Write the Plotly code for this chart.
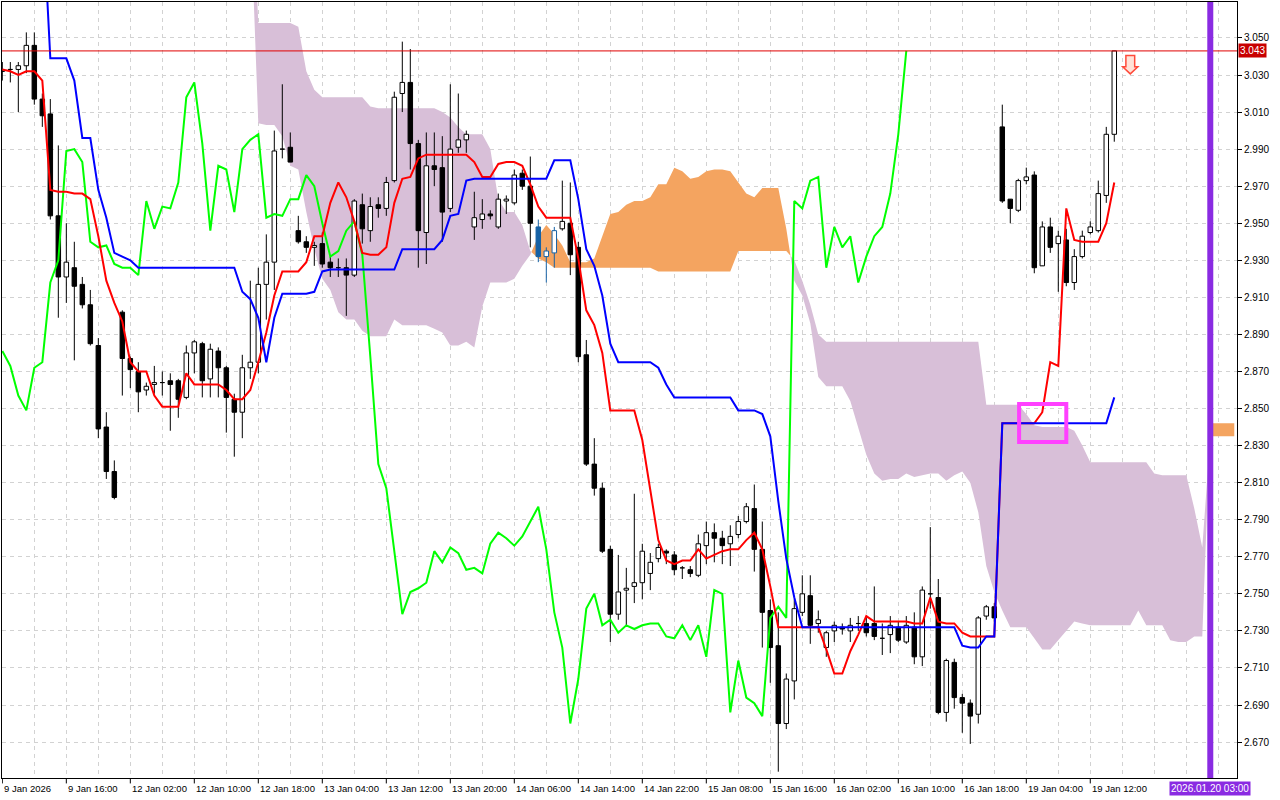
import plotly.graph_objects as go

# ---------------- data (hourly bars, bar index 0..139) ----------------
open_ = [3.032,3.033,3.033,3.035,3.046,3.017,3.009,2.954,2.921,2.926,
         2.917,2.906,2.884,2.840,2.816,2.902,2.877,2.870,2.860,2.863,
         2.864,2.865,2.865,2.856,2.880,2.885,2.866,2.881,2.872,2.855,
         2.848,2.872,2.875,2.917,2.929,2.990,2.991,2.946,2.940,2.937,
         2.939,2.929,2.926,2.926,2.922,2.960,2.946,2.960,2.958,2.973,
         3.020,3.026,2.993,2.945,2.981,2.980,2.958,2.991,2.995,2.948,
         2.952,2.955,2.948,2.962,2.961,2.977,2.970,2.948,2.932,2.934,
         2.947,2.950,2.937,2.879,2.820,2.807,2.774,2.739,2.752,2.754,
         2.756,2.761,2.769,2.773,2.771,2.764,2.763,2.760,2.776,2.783,
         2.780,2.777,2.782,2.789,2.796,2.774,2.741,2.722,2.680,2.703,
         2.740,2.749,2.734,2.721,2.730,2.732,2.730,2.734,2.734,2.734,
         2.726,2.728,2.732,2.724,2.732,2.716,2.750,2.748,2.686,2.713,
         2.694,2.691,2.685,2.738,2.743,3.002,2.963,2.957,2.973,2.976,
         2.927,2.948,2.939,2.941,2.918,2.932,2.945,2.946,2.965,2.998]
high = [3.037,3.037,3.037,3.053,3.053,3.020,3.017,2.992,2.950,2.940,
        2.921,2.914,2.888,2.848,2.822,2.903,2.878,2.875,2.864,2.873,
        2.870,2.869,2.866,2.884,2.887,2.886,2.885,2.883,2.873,2.858,
        2.879,2.919,2.926,2.944,3.000,3.025,2.999,2.954,2.943,2.940,
        2.945,2.932,2.931,2.931,2.963,2.966,2.964,2.964,2.975,3.021,
        3.048,3.044,2.995,2.999,2.999,2.997,3.025,3.020,3.000,2.967,
        2.963,2.957,2.966,2.965,2.979,2.979,2.986,2.952,2.937,2.948,
        2.973,2.972,2.940,2.887,2.834,2.810,2.776,2.771,2.764,2.804,
        2.777,2.772,2.777,2.774,2.773,2.765,2.765,2.782,2.789,2.788,
        2.784,2.787,2.792,2.799,2.809,2.789,2.747,2.740,2.707,2.747,
        2.760,2.760,2.741,2.730,2.735,2.734,2.737,2.738,2.738,2.754,
        2.734,2.738,2.735,2.738,2.740,2.754,2.786,2.758,2.715,2.715,
        2.696,2.693,2.738,2.744,2.745,3.014,2.963,2.974,2.980,2.978,
        2.951,2.953,2.946,2.947,2.936,2.946,2.951,2.973,3.002,3.043]
low = [3.027,3.026,3.010,3.031,3.014,3.002,2.952,2.899,2.907,2.876,
       2.904,2.884,2.834,2.812,2.801,2.857,2.861,2.848,2.857,2.858,
       2.857,2.838,2.845,2.855,2.869,2.856,2.856,2.856,2.837,2.824,
       2.834,2.866,2.869,2.898,2.914,2.985,2.983,2.939,2.934,2.927,
       2.926,2.921,2.921,2.900,2.921,2.939,2.940,2.953,2.954,2.972,
       3.010,2.979,2.926,2.928,2.970,2.940,2.956,2.988,2.988,2.941,
       2.947,2.952,2.947,2.955,2.960,2.968,2.937,2.929,2.918,2.926,
       2.946,2.922,2.875,2.819,2.803,2.772,2.724,2.736,2.733,2.745,
       2.747,2.752,2.767,2.766,2.760,2.758,2.759,2.759,2.766,2.767,
       2.766,2.765,2.780,2.788,2.762,2.721,2.702,2.654,2.677,2.693,
       2.738,2.723,2.729,2.716,2.724,2.728,2.724,2.730,2.727,2.725,
       2.717,2.718,2.724,2.723,2.712,2.711,2.742,2.685,2.681,2.688,
       2.675,2.669,2.680,2.736,2.735,2.961,2.950,2.956,2.971,2.923,
       2.927,2.934,2.913,2.916,2.914,2.931,2.944,2.945,2.961,2.994]
close = [3.032,3.033,3.035,3.046,3.017,3.008,2.954,2.921,2.929,2.916,
         2.906,2.885,2.839,2.816,2.802,2.877,2.871,2.859,2.862,2.864,
         2.864,2.863,2.855,2.880,2.886,2.865,2.882,2.872,2.856,2.848,
         2.872,2.875,2.917,2.929,2.989,2.990,2.983,2.940,2.937,2.938,
         2.928,2.926,2.926,2.922,2.962,2.947,2.959,2.958,2.972,3.018,
         3.026,2.993,2.946,2.981,2.979,2.956,2.990,2.995,2.998,2.953,
         2.955,2.954,2.963,2.963,2.976,2.970,2.950,2.932,2.935,2.946,
         2.951,2.933,2.878,2.820,2.807,2.773,2.739,2.751,2.753,2.756,
         2.773,2.767,2.775,2.772,2.763,2.764,2.761,2.777,2.783,2.780,
         2.776,2.781,2.789,2.797,2.774,2.740,2.721,2.680,2.704,2.742,
         2.750,2.733,2.736,2.729,2.733,2.731,2.733,2.734,2.729,2.727,
         2.726,2.733,2.725,2.733,2.716,2.752,2.750,2.686,2.714,2.694,
         2.691,2.684,2.737,2.743,2.737,2.962,2.958,2.973,2.975,2.926,
         2.948,2.937,2.943,2.918,2.932,2.943,2.948,2.966,2.998,3.043]

tenkan = [3.033,3.032,3.030,3.032,3.032,3.027,2.968,2.967,2.967,2.966,
          2.966,2.963,2.943,2.919,2.907,2.897,2.875,2.870,2.870,2.857,
          2.851,2.851,2.851,2.869,2.863,2.863,2.863,2.863,2.860,2.855,
          2.855,2.860,2.875,2.891,2.911,2.924,2.924,2.924,2.929,2.943,
          2.943,2.961,2.972,2.964,2.951,2.934,2.933,2.933,2.937,2.961,
          2.974,2.975,2.985,2.987,2.987,2.987,2.987,2.987,2.987,2.983,
          2.975,2.975,2.982,2.983,2.983,2.981,2.971,2.959,2.953,2.953,
          2.953,2.953,2.931,2.903,2.895,2.880,2.849,2.849,2.849,2.849,
          2.833,2.806,2.779,2.768,2.766,2.768,2.768,2.774,2.769,2.771,
          2.773,2.774,2.774,2.779,2.783,2.774,2.754,2.732,2.732,2.732,
          2.732,2.732,2.732,2.720,2.707,2.707,2.719,2.728,2.738,2.735,
          2.735,2.735,2.735,2.735,2.734,2.734,2.748,2.735,2.734,2.734,
          2.729,2.727,2.727,2.727,2.727,2.842,2.842,2.842,2.842,2.842,
          2.848,2.875,2.873,2.958,2.941,2.940,2.940,2.940,2.950,2.972]
kijun = [3.130,3.130,3.130,3.130,3.130,3.123,3.039,3.039,3.039,3.027,
         2.996,2.996,2.968,2.953,2.934,2.932,2.930,2.926,2.926,2.926,
         2.926,2.926,2.926,2.926,2.926,2.926,2.926,2.926,2.926,2.926,
         2.913,2.909,2.899,2.875,2.899,2.912,2.912,2.912,2.912,2.913,
         2.924,2.925,2.925,2.925,2.925,2.925,2.925,2.925,2.925,2.925,
         2.936,2.936,2.936,2.936,2.936,2.941,2.954,2.955,2.973,2.974,
         2.974,2.974,2.974,2.974,2.974,2.974,2.974,2.974,2.974,2.984,
         2.984,2.984,2.963,2.936,2.927,2.911,2.885,2.875,2.875,2.875,
         2.875,2.875,2.872,2.863,2.856,2.856,2.856,2.856,2.856,2.856,
         2.856,2.856,2.849,2.849,2.849,2.847,2.835,2.800,2.769,2.748,
         2.732,2.732,2.732,2.732,2.732,2.732,2.732,2.732,2.732,2.732,
         2.732,2.732,2.732,2.732,2.732,2.732,2.732,2.732,2.732,2.732,
         2.722,2.721,2.721,2.727,2.727,2.842,2.842,2.842,2.842,2.842,
         2.842,2.842,2.842,2.842,2.842,2.842,2.842,2.842,2.842,2.856]
chikou = [2.881,2.873,2.857,2.849,2.872,2.875,2.918,2.930,2.989,2.990,
          2.983,2.940,2.937,2.938,2.928,2.926,2.926,2.922,2.962,2.947,
          2.959,2.958,2.972,3.018,3.026,2.993,2.946,2.981,2.979,2.956,
          2.990,2.995,2.998,2.953,2.955,2.954,2.963,2.963,2.976,2.970,
          2.950,2.932,2.935,2.946,2.951,2.933,2.878,2.820,2.807,2.773,
          2.739,2.751,2.753,2.756,2.773,2.767,2.775,2.772,2.763,2.764,
          2.761,2.777,2.783,2.780,2.776,2.781,2.789,2.797,2.774,2.740,
          2.721,2.680,2.704,2.742,2.750,2.733,2.736,2.729,2.733,2.731,
          2.733,2.734,2.734,2.727,2.726,2.733,2.725,2.733,2.716,2.752,
          2.750,2.686,2.714,2.694,2.691,2.684,2.737,2.743,2.737,2.962,
          2.958,2.973,2.975,2.926,2.948,2.937,2.943,2.918,2.932,2.943,
          2.948,2.966,2.998,3.043]

# Senkou spans (cloud), first value at bar 31
senkou_start = 31
senkou_a = [3.120,3.004,3.003,3.003,2.997,2.981,2.979,2.956,2.936,2.920,
            2.914,2.902,2.898,2.898,2.892,2.889,2.889,2.889,2.898,2.895,
            2.895,2.895,2.895,2.893,2.891,2.884,2.884,2.886,2.883,2.905,
            2.918,2.918,2.918,2.920,2.927,2.933,2.943,2.949,2.944,2.938,
            2.929,2.929,2.929,2.931,2.943,2.955,2.956,2.960,2.962,2.962,
            2.964,2.971,2.971,2.980,2.978,2.974,2.975,2.978,2.979,2.979,
            2.978,2.972,2.966,2.964,2.969,2.969,2.969,2.947,2.919,2.911,
            2.896,2.867,2.862,2.862,2.862,2.854,2.840,2.825,2.815,2.811,
            2.812,2.812,2.815,2.813,2.814,2.815,2.815,2.811,2.814,2.816,
            2.810,2.794,2.765,2.751,2.741,2.732,2.732,2.732,2.726,2.720,
            2.720,2.725,2.730,2.735,2.734,2.733,2.733,2.733,2.733,2.733,
            2.733,2.741,2.733,2.733,2.733,2.725,2.724,2.724,2.727,2.727,
            2.842,2.842,2.842,2.842]
senkou_b = [3.150,3.058,3.058,3.058,3.058,3.058,3.056,3.032,3.022,3.018,
            3.018,3.018,3.018,3.018,3.018,3.013,3.012,3.012,3.012,3.012,
            3.012,3.012,3.012,3.012,3.010,3.007,3.002,2.998,2.998,2.998,
            2.990,2.963,2.956,2.956,2.949,2.935,2.931,2.929,2.926,2.926,
            2.926,2.926,2.926,2.926,2.926,2.926,2.926,2.926,2.926,2.926,
            2.926,2.924,2.924,2.924,2.924,2.924,2.924,2.924,2.924,2.924,
            2.924,2.935,2.935,2.935,2.935,2.935,2.935,2.935,2.930,2.919,
            2.906,2.890,2.886,2.886,2.886,2.886,2.886,2.886,2.886,2.886,
            2.886,2.886,2.886,2.886,2.886,2.886,2.886,2.886,2.886,2.886,
            2.886,2.886,2.852,2.852,2.852,2.852,2.852,2.847,2.841,2.840,
            2.840,2.840,2.840,2.838,2.830,2.821,2.821,2.821,2.821,2.821,
            2.821,2.821,2.821,2.815,2.814,2.814,2.814,2.814,2.796,2.775,
            2.835,2.835,2.835,2.835]

time_labels = ["9 Jan 2026", "9 Jan 16:00", "12 Jan 02:00", "12 Jan 10:00",
               "12 Jan 18:00", "13 Jan 04:00", "13 Jan 12:00", "13 Jan 20:00",
               "14 Jan 06:00", "14 Jan 14:00", "14 Jan 22:00", "15 Jan 08:00",
               "15 Jan 16:00", "16 Jan 02:00", "16 Jan 10:00", "16 Jan 18:00",
               "19 Jan 04:00", "19 Jan 12:00"]
time_label_bars = [0, 8, 16, 24, 32, 40, 48, 56, 64, 72, 80, 88, 96, 104, 112, 120, 128, 136]
price_ticks = [2.670, 2.690, 2.710, 2.730, 2.750, 2.770, 2.790, 2.810, 2.830, 2.850,
               2.870, 2.890, 2.910, 2.930, 2.950, 2.970, 2.990, 3.010, 3.030, 3.050]
current_price = 3.043
vline_bar = 151
vline_label = "2026.01.20 03:00"
blue_candles = [67, 68, 69]   # candles drawn inside the orange cloud (inverted colour)

# ---------------- styles ----------------
THISTLE = "#D8BFD8"
SANDY = "#F4A460"
GRID = "#D2D2D2"
FONT = "Liberation Sans"
BODY_HALF = 0.28

fig = go.Figure()

# ---- cloud polygons (split where spans cross) ----
cx = list(range(senkou_start, senkou_start + len(senkou_a)))
regions = []
cur_x, cur_a, cur_b = [cx[0]], [senkou_a[0]], [senkou_b[0]]
sign = senkou_a[0] >= senkou_b[0]
for i in range(1, len(cx)):
    s = senkou_a[i] >= senkou_b[i]
    if s != sign:
        d0 = senkou_a[i-1] - senkou_b[i-1]
        d1 = senkou_a[i] - senkou_b[i]
        t = d0 / (d0 - d1)
        xc = cx[i-1] + t * (cx[i] - cx[i-1])
        yc = senkou_a[i-1] + t * (senkou_a[i] - senkou_a[i-1])
        cur_x.append(xc); cur_a.append(yc); cur_b.append(yc)
        regions.append((sign, cur_x, cur_a, cur_b))
        cur_x, cur_a, cur_b = [xc], [yc], [yc]
        sign = s
    cur_x.append(cx[i]); cur_a.append(senkou_a[i]); cur_b.append(senkou_b[i])
regions.append((sign, cur_x, cur_a, cur_b))

for bull, xs, ya, yb in regions:
    col = SANDY if bull else THISTLE
    fig.add_trace(go.Scatter(
        x=xs + xs[::-1], y=ya + yb[::-1], mode="lines", fill="toself",
        fillcolor=col, line=dict(width=0, color=col),
        hoverinfo="skip", showlegend=False))


# ---- candles (wicks + bodies as scatter so they sit above the cloud) ----
def add_candles(indices, color, up_fill, down_fill):
    wx, wy = [], []
    for i in indices:
        wx += [i, i, None]
        wy += [low[i], high[i], None]
    fig.add_trace(go.Scatter(x=wx, y=wy, mode="lines", line=dict(color=color, width=1),
                             hoverinfo="skip", showlegend=False))
    for is_up, fillc in ((True, up_fill), (False, down_fill)):
        bx, by = [], []
        for i in indices:
            if (close[i] >= open_[i]) != is_up:
                continue
            lo, hi = min(open_[i], close[i]), max(open_[i], close[i])
            bx += [i - BODY_HALF, i + BODY_HALF, i + BODY_HALF, i - BODY_HALF, i - BODY_HALF, None]
            by += [lo, lo, hi, hi, lo, None]
        fig.add_trace(go.Scatter(x=bx, y=by, mode="lines", fill="toself", fillcolor=fillc,
                                 line=dict(color=color, width=1), hoverinfo="skip", showlegend=False))


main_idx = [i for i in range(len(close)) if i not in blue_candles]
add_candles(main_idx, "black", "white", "black")
add_candles(blue_candles, "#1662A6", "white", "#1662A6")

# ---- Ichimoku lines ----
fig.add_trace(go.Scatter(x=list(range(len(chikou))), y=chikou, mode="lines",
                         line=dict(color="#00FF00", width=2), hoverinfo="skip", showlegend=False))
fig.add_trace(go.Scatter(x=list(range(len(tenkan))), y=tenkan, mode="lines",
                         line=dict(color="#FF0000", width=2), hoverinfo="skip", showlegend=False))
fig.add_trace(go.Scatter(x=list(range(len(kijun))), y=kijun, mode="lines",
                         line=dict(color="#0000FF", width=2), hoverinfo="skip", showlegend=False))

# ---- shapes ----
shapes = []
shapes.append(dict(type="line", xref="paper", x0=0, x1=1, yref="y", y0=current_price, y1=current_price,
                   line=dict(color="#E00000", width=1), layer="above"))
shapes.append(dict(type="line", xref="x", x0=vline_bar, x1=vline_bar, yref="paper", y0=0, y1=1,
                   line=dict(color="#8A2BE2", width=6), layer="above"))
# signal box
box_x0, box_x1, box_y0, box_y1 = 127.1, 133.0, 2.8319, 2.8524
shapes.append(dict(type="rect", xref="x", yref="y", x0=box_x0, x1=box_x1, y0=box_y0, y1=box_y1,
                   line=dict(color="#FF40FF", width=4), fillcolor="rgba(0,0,0,0)", layer="above"))
# sell arrow
ax, a_top, a_base, a_tip = 141.0, 3.0405, 3.0345, 3.0306
arrow_path = (f"M {ax-0.55},{a_top} L {ax+0.55},{a_top} L {ax+0.55},{a_base} L {ax+0.95},{a_base} "
              f"L {ax},{a_tip} L {ax-0.95},{a_base} L {ax-0.55},{a_base} Z")
shapes.append(dict(type="path", xref="x", yref="y", path=arrow_path,
                   line=dict(color="#FF4A3A", width=1.5), fillcolor="#FFE2D8", layer="above"))
# x tick marks at labels
for b in time_label_bars:
    shapes.append(dict(type="line", xref="x", x0=b, x1=b, yref="paper", y0=0, y1=-0.007,
                       line=dict(color="black", width=1)))

annotations = []
for b, t in zip(time_label_bars, time_labels):
    annotations.append(dict(x=b, xref="x", y=0, yref="paper", text=t, showarrow=False,
                            xanchor="left", yanchor="top", xshift=0, yshift=-3,
                            font=dict(family=FONT, size=9.5, color="black")))
annotations.append(dict(x=vline_bar, xref="x", y=0, yref="paper", text=vline_label, showarrow=False,
                        xanchor="center", yanchor="top", yshift=-3, bgcolor="#8A2BE2", borderpad=1,
                        font=dict(family=FONT, size=10, color="white")))
annotations.append(dict(x=1, xref="paper", y=current_price, yref="y", text=f"{current_price:.3f}",
                        showarrow=False, xanchor="left", yanchor="middle", xshift=1, bgcolor="#C80000",
                        borderpad=1, font=dict(family=FONT, size=10, color="white")))

fig.update_layout(
    width=1280, height=800,
    margin=dict(l=2, r=43, t=2, b=22),
    paper_bgcolor="white", plot_bgcolor="white",
    showlegend=False, hovermode=False,
    font=dict(family=FONT, size=10, color="black"),
    xaxis=dict(range=[-0.04, 154.34],
               tickmode="linear", tick0=0, dtick=4, showticklabels=False, ticks="",
               showgrid=True, gridcolor=GRID, griddash="4px,4px", gridwidth=1,
               showline=True, linecolor="black", linewidth=1, mirror=True, zeroline=False),
    yaxis=dict(range=[2.6506, 3.0694], side="right", tickmode="array", tickvals=price_ticks,
               ticktext=[f"{v:.3f}" for v in price_ticks], ticks="outside", ticklen=4,
               tickcolor="black", showgrid=True, gridcolor=GRID, griddash="4px,4px", gridwidth=1,
               showline=True, linecolor="black", linewidth=1, mirror=True, zeroline=False,
               tickfont=dict(family=FONT, size=10, color="black")),
    shapes=shapes, annotations=annotations,
)

fig.write_html("out.html", config={"displayModeBar": False},
               post_script="document.body.style.margin='0';document.body.style.overflow='hidden';")
